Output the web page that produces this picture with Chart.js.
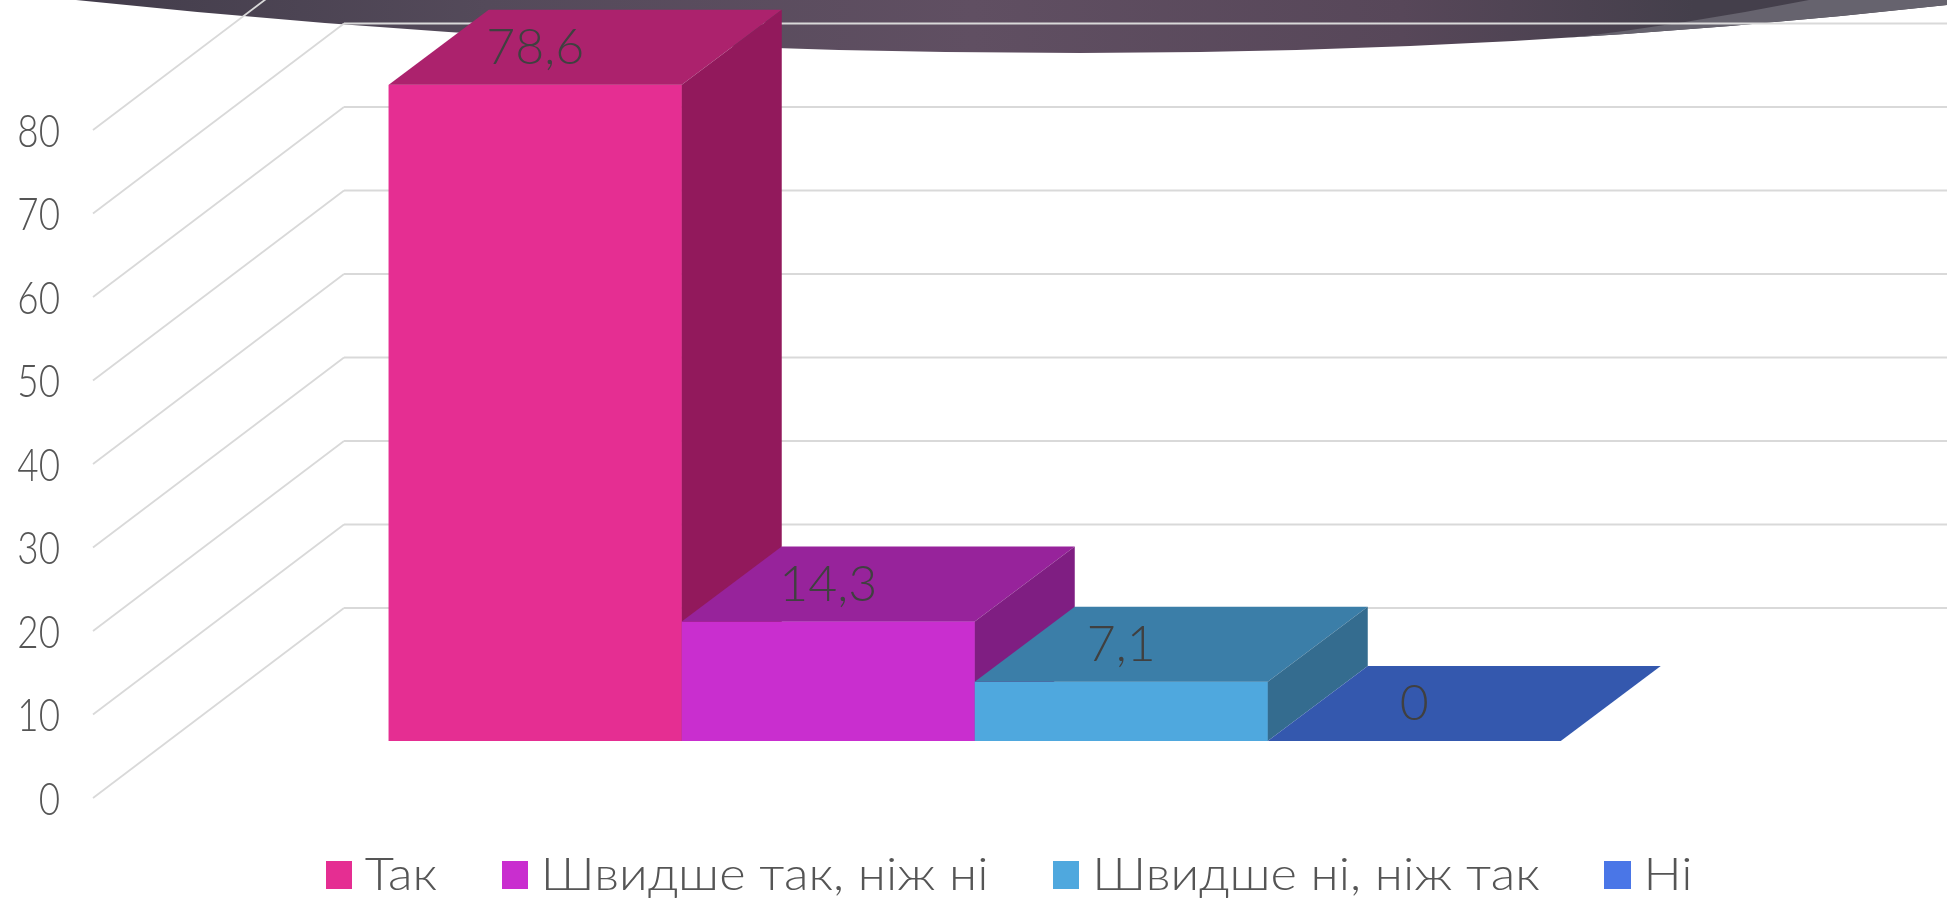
<!DOCTYPE html>
<html><head><meta charset="utf-8">
<style>html,body{margin:0;padding:0;background:#fff;overflow:hidden}canvas{display:block}</style>
<script src="https://cdn.jsdelivr.net/npm/chart.js@4"></script></head>
<body><canvas id="c" width="1947" height="898"></canvas>
<script>
const categories = ['Так', 'Швидше так, ніж ні', 'Швидше ні, ніж так', 'Ні'];
const values = [78.6, 14.3, 7.1, 0];
const tickValues = [0, 10, 20, 30, 40, 50, 60, 70, 80];
const frontColors = ['#E52E92', '#C92ECF', '#4FA8DE', '#4A76E7'];
const topColors = ['#AC226D', '#97239B', '#3B7EA8', '#3458AE'];
const sideColors = ['#92195C', '#7F1E82', '#346C8F', '#2C4A94'];

const FONT = 'Lato';
const AREA_LEFT = 93, DEPTH_X = 100, DEPTH_Y = 75, WALL_X = 251, WALL_Y = 190, FLOOR_LIFT = 57;
const PER_UNIT = 8.35, AREA_H = 798;
const LEGEND_SX = 1.10, LEGEND_CX = 1011;

function legendSwatch(color){
  const s = document.createElement('canvas'); s.width = 24; s.height = 28;
  const x = s.getContext('2d'); x.fillStyle = color; x.fillRect(0,0,24,28); return s;
}

const scene = {
  id: 'scene',
  beforeLayout(chart){
    const lg = chart.legend;
    if (lg && !lg._wrapped){
      const f = lg.fit, d = lg.draw;
      lg.fit = function(){ f.call(this); this.height = 100; };
      lg.draw = function(area){
        const c = this.ctx; c.save();
        c.translate(LEGEND_CX, 0); c.scale(LEGEND_SX, 1); c.translate(-LEGEND_CX, 0);
        d.call(this, area); c.restore();
      };
      lg._wrapped = true;
    }
  },
  afterLayout(chart){
    const lg = chart.legend;
    lg.left = 83; lg.right = 1947; lg.top = 782;
  },
  beforeDraw(chart){
    const c = chart.ctx, W = chart.width;
    c.save();
    c.beginPath();
    c.moveTo(76,0); c.quadraticCurveTo(578,53,1080,53); c.quadraticCurveTo(1535,53,1991,0); c.closePath();
    const g = c.createLinearGradient(0,0,W,0);
    g.addColorStop(0,'#3f3a48'); g.addColorStop(0.25,'#544a5a'); g.addColorStop(0.5,'#604f62');
    g.addColorStop(0.72,'#574759'); g.addColorStop(0.87,'#443f4b'); g.addColorStop(1,'#443f4b');
    c.fillStyle = g; c.fill(); c.clip();
    c.beginPath(); c.moveTo(1809,0); c.quadraticCurveTo(1685,24.5,1561,39); c.lineTo(1961,39); c.lineTo(1961,0); c.closePath();
    c.fillStyle = '#66636E'; c.fill();
    c.restore();
  },
  beforeDatasetsDraw(chart){
    const c = chart.ctx, y = chart.scales.y, left = chart.chartArea.left;
    c.save(); c.strokeStyle = '#D9D9D9';
    y.ticks.forEach(t => {
      const py = y.getPixelForValue(t.value);
      c.lineWidth = 1.8;
      c.beginPath(); c.moveTo(left, py); c.lineTo(left + WALL_X, py - WALL_Y); c.stroke();
      c.lineWidth = 2;
      c.beginPath(); c.moveTo(left + WALL_X, py - WALL_Y); c.lineTo(chart.width, py - WALL_Y); c.stroke();
    });
    c.font = '300 46px ' + FONT; c.fillStyle = '#555555'; c.textAlign = 'right'; c.textBaseline = 'middle';
    y.ticks.forEach(t => {
      c.save();
      c.translate(60, y.getPixelForValue(t.value) + 2);
      c.scale(0.8, 1);
      c.fillText(String(t.value), 0, 0);
      c.restore();
    });
    c.restore();
  },
  afterDatasetsDraw(chart){
    const c = chart.ctx;
    c.save();
    categories.forEach((_, i) => {
      const el = chart.getDatasetMeta(i).data[0];
      el.draw(c, chart.chartArea);
      const l = el.x - el.width/2, r = el.x + el.width/2, t = el.y, b = el.base;
      c.fillStyle = topColors[i];
      c.beginPath(); c.moveTo(l,t); c.lineTo(l+DEPTH_X,t-DEPTH_Y); c.lineTo(r+DEPTH_X,t-DEPTH_Y); c.lineTo(r,t); c.closePath(); c.fill();
      if (b - t > 0.5){
        c.fillStyle = sideColors[i];
        c.beginPath(); c.moveTo(r,t); c.lineTo(r+DEPTH_X,t-DEPTH_Y); c.lineTo(r+DEPTH_X,b-DEPTH_Y); c.lineTo(r,b); c.closePath(); c.fill();
      }
    });
    c.font = '300 50px ' + FONT; c.fillStyle = '#404040'; c.textAlign = 'center'; c.textBaseline = 'middle';
    chart.data.datasets.forEach((d, i) => {
      const el = chart.getDatasetMeta(i).data[0];
      c.fillText(String(d.data[0]).replace('.', ','), el.x, el.y - 37);
    });
    c.restore();
  }
};

new Chart(document.getElementById('c'), {
  type: 'bar',
  data: {
    labels: [''],
    datasets: categories.map((name, i) => ({
      label: name, data: [values[i]], backgroundColor: frontColors[i], yAxisID: 'yBars'
    }))
  },
  options: {
    responsive: false, animation: false, events: [],
    layout: { padding: { left: 0, right: 90.5, top: 0, bottom: 0 } },
    datasets: { bar: { categoryPercentage: 0.6646, barPercentage: 1 } },
    scales: {
      x: { display: false },
      y: {
        position: 'left', min: 0, max: AREA_H / PER_UNIT,
        afterBuildTicks(a){ a.ticks = tickValues.map(v => ({ value: v })); },
        afterFit(a){ a.width = AREA_LEFT; },
        grid: { display: false, drawTicks: false }, border: { display: false },
        ticks: { display: false }
      },
      yBars: { display: false, min: -FLOOR_LIFT / PER_UNIT, max: (AREA_H - FLOOR_LIFT) / PER_UNIT }
    },
    plugins: {
      tooltip: { enabled: false },
      legend: {
        position: 'bottom',
        labels: {
          usePointStyle: true, boxWidth: 1, boxHeight: 46, padding: 70.3,
          color: '#555555', font: { family: FONT, size: 46, weight: 300 },
          generateLabels(){
            return categories.map((name, i) => ({
              text: name, fontColor: '#555555', fillStyle: frontColors[i], strokeStyle: frontColors[i],
              lineWidth: 0, pointStyle: legendSwatch(frontColors[i]), datasetIndex: i, hidden: false
            }));
          }
        }
      }
    }
  },
  plugins: [scene]
});
</script></body></html>
